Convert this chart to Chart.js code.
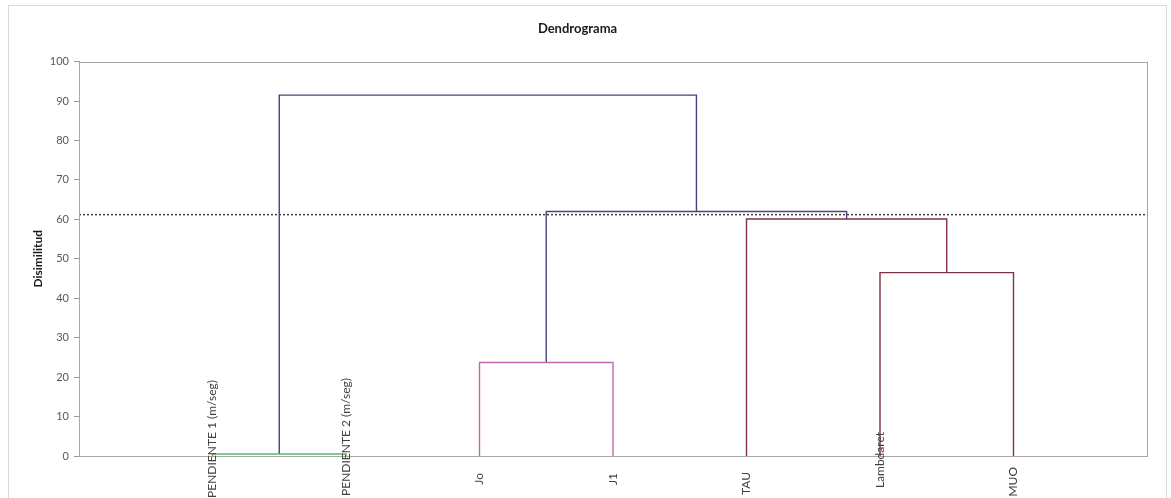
<!DOCTYPE html>
<html lang="es">
<head>
<meta charset="UTF-8">
<title>Dendrograma</title>
<script src="https://cdn.jsdelivr.net/npm/chart.js"></script>
<style>
  html, body { margin: 0; padding: 0; background: #fff; }
  #wrap { width: 1171px; height: 498px; }
</style>
</head>
<body>
<div id="wrap"><canvas id="dendro"></canvas></div>
<script>
  // Leaves of the tree, left to right
  const leafLabels = ['PENDIENTE 1 (m/seg)', 'PENDIENTE 2 (m/seg)', 'Jo', 'J1', 'TAU', 'Lambdaret', 'MUO'];
  // Each merge joins two nodes: 0-6 are leaves, 7+ are the merges in this order
  const mergeLeft = [0, 2, 5, 4, 8, 7];
  const mergeRight = [1, 3, 6, 9, 10, 11];
  const mergeHeight = [0.5, 23.7, 46.5, 60.1, 62.0, 91.5];
  const cutLevel = 61.2;

  // styles
  const mergeColour = ['#5cb85c', '#c26aa8', '#80303f', '#80303f', '#44447f', '#44447f'];
  const labelTop = [-76, -78, 17, 17, 16, -24, 11]; // where each rotated label ends, px from the axis
  const FONT = 'Lato, "Open Sans", sans-serif';

  // walk the merges to get the elbow paths
  const nodeX = leafLabels.map((_, i) => i + 1);
  const nodeH = leafLabels.map(() => 0);
  const datasets = [];
  mergeHeight.forEach((h, k) => {
    const a = mergeLeft[k], b = mergeRight[k];
    datasets.push({
      data: [
        { x: nodeX[a], y: nodeH[a] },
        { x: nodeX[a], y: h },
        { x: nodeX[b], y: h },
        { x: nodeX[b], y: nodeH[b] }
      ],
      borderColor: mergeColour[k],
      borderWidth: 1.4,
      showLine: true,
      pointRadius: 0,
      tension: 0
    });
    nodeX.push((nodeX[a] + nodeX[b]) / 2);
    nodeH.push(h);
  });

  // truncation line
  datasets.push({
    data: [{ x: 0, y: cutLevel }, { x: leafLabels.length + 1, y: cutLevel }],
    borderColor: '#404040',
    borderWidth: 1.5,
    borderDash: [2, 2],
    showLine: true,
    pointRadius: 0
  });

  const frame = {
    id: 'frame',
    beforeDraw(chart) {
      const c = chart.ctx;
      c.save();
      c.strokeStyle = '#d9d9d9';
      c.lineWidth = 1;
      c.strokeRect(8.5, 5.5, 1158, 520);
      c.restore();
    },
    afterDraw(chart) {
      const c = chart.ctx, a = chart.chartArea;
      const xs = chart.scales.x, ys = chart.scales.y;
      c.save();
      c.strokeStyle = '#a6a6a6';
      c.lineWidth = 1;
      c.strokeRect(Math.round(a.left) + 0.5, Math.round(a.top) + 0.5, Math.round(a.right - a.left), Math.round(a.bottom - a.top));
      // leaf names, rotated
      c.fillStyle = '#404040';
      c.font = '12px ' + FONT;
      c.textAlign = 'right';
      c.textBaseline = 'middle';
      const y0 = ys.getPixelForValue(0);
      leafLabels.forEach((t, i) => {
        c.save();
        c.translate(xs.getPixelForValue(i + 1), y0 + labelTop[i]);
        c.rotate(-Math.PI / 2);
        c.fillText(t, 0, 0);
        c.restore();
      });
      c.restore();
    }
  };

  new Chart(document.getElementById('dendro'), {
    type: 'scatter',
    data: { datasets },
    options: {
      responsive: true,
      maintainAspectRatio: false,
      animation: false,
      layout: { padding: { left: 8, right: 24, top: 0, bottom: 42 } },
      plugins: {
        legend: { display: false },
        tooltip: { enabled: false },
        title: {
          display: true,
          text: 'Dendrograma',
          color: '#1a1a1a',
          font: { family: FONT, size: 13, weight: 'bold' },
          padding: { top: 21, bottom: 25 }
        }
      },
      scales: {
        x: { type: 'linear', min: 0, max: leafLabels.length + 1, display: false },
        y: {
          min: 0,
          max: 100,
          afterFit(scale) { scale.width = 71; },
          ticks: {
            stepSize: 10,
            color: '#595959',
            padding: 5,
            font: { family: FONT, size: 11 }
          },
          grid: { drawOnChartArea: false, tickLength: 5, color: '#999' },
          border: { color: '#999' },
          title: {
            display: true,
            text: 'Disimilitud',
            color: '#1a1a1a',
            font: { family: FONT, size: 12, weight: 'bold' },
            padding: { top: 23 }
          }
        }
      }
    },
    plugins: [frame]
  });
</script>
</body>
</html>
